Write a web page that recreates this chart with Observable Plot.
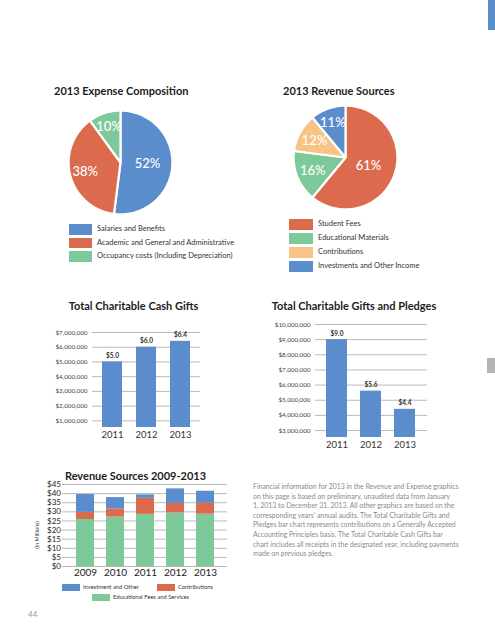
<!DOCTYPE html>
<html><head><meta charset="utf-8">
<script src="https://cdn.jsdelivr.net/npm/d3@7"></script>
<script src="https://cdn.jsdelivr.net/npm/@observablehq/plot@0.6"></script>
<style>
html,body{margin:0;padding:0;background:#fff;}
#page{position:relative;width:495px;height:640px;overflow:hidden;font-family:Lato,"Open Sans",sans-serif;background:#fff;}
.abs{position:absolute;}
.title{font-weight:bold;font-size:11px;line-height:11px;color:#1d1d1d;white-space:nowrap;}
.leg{font-size:7.5px;line-height:10px;color:#333;white-space:nowrap;}
.sw{position:absolute;}
.para{font-size:6.9px;line-height:9.6px;color:#8a8a8a;white-space:nowrap;}
</style></head>
<body><div id="page"></div>
<script>
// ---------- DATA ----------
const expenseCategories = ["Salaries and Benefits", "Academic and General and Administrative", "Occupancy costs (Including Depreciation)"];
const expenseValues = [52, 38, 10];
const expenseColors = ["#5b8ccb", "#dc6a4d", "#7ec99a"];

const revenueCategories = ["Student Fees", "Educational Materials", "Contributions", "Investments and Other Income"];
const revenueValues = [61, 16, 12, 11];
const revenueColors = ["#dc6a4d", "#7ec99a", "#f8c486", "#5b8ccb"];

const giftYears = ["2011", "2012", "2013"];
const cashGifts = [5.0e6, 6.0e6, 6.4e6];
const cashTicks = [1e6, 2e6, 3e6, 4e6, 5e6, 6e6, 7e6];
const pledgeGifts = [9.0e6, 5.6e6, 4.4e6];
const pledgeTicks = [3e6, 4e6, 5e6, 6e6, 7e6, 8e6, 9e6, 10e6];

const revYears = ["2009", "2010", "2011", "2012", "2013"];
const revSeries = ["Educational Fees and Services", "Contributions", "Investment and Other"];
const educationalFees = [25.8, 27.1, 28.6, 29.4, 28.7];
const contributionsRev = [3.9, 4.5, 8.8, 5.2, 6.0];
const investmentRev = [9.8, 6.2, 1.9, 8.0, 6.6];
const revColors = ["#7ec99a", "#dc6a4d", "#5b8ccb"];
const revTicks = [0, 5, 10, 15, 20, 25, 30, 35, 40, 45];

const noteLines = [
  "Financial information for 2013 in the Revenue and Expense graphics",
  "on this page is based on preliminary, unaudited data from January",
  "1, 2013 to December 31, 2013. All other graphics are based on the",
  "corresponding years\u2019 annual audits. The Total Charitable Gifts and",
  "Pledges bar chart represents contributions on a Generally Accepted",
  "Accounting Principles basis. The Total Charitable Cash Gifts bar",
  "chart includes all receipts in the designated year, including payments",
  "made on previous pledges."
];

// ---------- HELPERS ----------
const page = document.getElementById("page");
function place(el, left, top) {
  el.classList.add("abs");
  el.style.left = left + "px";
  el.style.top = top + "px";
  page.appendChild(el);
  return el;
}
function div(cls, html, left, top, extra) {
  const d = document.createElement("div");
  d.className = cls;
  d.innerHTML = html;
  if (extra) Object.assign(d.style, extra);
  return place(d, left, top);
}
function centeredTitle(text, cx, cy) {
  const d = div("title", text, 0, cy - 5.5);
  const w = d.getBoundingClientRect().width;
  d.style.left = (cx - w / 2) + "px";
}
function legend(names, colors, x, y0, step, sw, sh, textX, cls, fs) {
  names.forEach((n, i) => {
    const s = document.createElement("div");
    s.className = "sw";
    Object.assign(s.style, {width: sw + "px", height: sh + "px", background: colors[i]});
    place(s, x, y0 + i * step);
    div(cls, n, textX, y0 + i * step + sh / 2 - 5, fs ? {fontSize: fs + "px"} : null);
  });
}

function pieChart(names, values, colors, labelR) {
  const arcs = d3.pie().sort(null)(values);
  const pts = [];
  arcs.forEach((a, i) => {
    pts.push({name: names[i], x: 0, y: 0});
    const n = Math.max(2, Math.ceil((a.endAngle - a.startAngle) / 0.02));
    for (let k = 0; k <= n; k++) {
      const t = a.startAngle + (a.endAngle - a.startAngle) * k / n;
      pts.push({name: names[i], x: Math.sin(t), y: Math.cos(t)});
    }
  });
  const labels = arcs.map((a, i) => {
    const m = (a.startAngle + a.endAngle) / 2;
    return {label: values[i] + "%", x: labelR[i] * Math.sin(m), y: labelR[i] * Math.cos(m)};
  });
  return Plot.plot({
    width: 110, height: 110, margin: 0,
    style: {background: "transparent", fontFamily: "Lato, sans-serif"},
    x: {domain: [-1.06, 1.06], axis: null},
    y: {domain: [-1.06, 1.06], axis: null},
    color: {domain: names, range: colors},
    marks: [
      Plot.line(pts, {x: "x", y: "y", z: "name", fill: "name", stroke: "white", strokeWidth: 2.2, curve: "linear-closed", strokeLinejoin: "round"}),
      Plot.text(labels, {x: "x", y: "y", text: "label", fill: "white", fontSize: 13, fontWeight: 500})
    ]
  });
}

function giftChart(values, ticks, yMin, yMax, opts) {
  const data = giftYears.map((y, i) => ({year: y, value: values[i]}));
  const fmt = d3.format("$,");
  return Plot.plot({
    width: opts.width, height: opts.height,
    marginLeft: opts.marginLeft, marginRight: opts.marginRight, marginTop: 10, marginBottom: opts.marginBottom,
    style: {background: "transparent", fontFamily: "Lato, sans-serif"},
    x: {domain: giftYears, paddingInner: opts.pi, paddingOuter: opts.po, label: null},
    y: {domain: [yMin, yMax], label: null},
    marks: [
      Plot.gridY(ticks, {stroke: "#b9b9b9", strokeOpacity: 1, strokeWidth: 1}),
      Plot.barY(data, {x: "year", y1: yMin, y2: "value", fill: "#5b8ccb"}),
      Plot.text(data, {x: "year", y: "value", text: d => "$" + (d.value / 1e6).toFixed(1), dy: -6, fontSize: 6.5, fontWeight: "bold", fill: "#333"}),
      Plot.axisY(ticks, {tickSize: 0, tickPadding: 5, tickFormat: fmt, fontSize: 6.3, fill: "#444", label: null}),
      Plot.axisX({tickSize: 0, tickPadding: opts.xPad, fontSize: 9.5, fill: "#333", label: null})
    ]
  });
}

function stackedChart() {
  const rows = [];
  revYears.forEach((y, i) => {
    rows.push({year: y, series: revSeries[0], value: educationalFees[i]});
    rows.push({year: y, series: revSeries[1], value: contributionsRev[i]});
    rows.push({year: y, series: revSeries[2], value: investmentRev[i]});
  });
  return Plot.plot({
    width: 200, height: 110, marginLeft: 32, marginRight: 3, marginTop: 10, marginBottom: 18,
    style: {background: "transparent", fontFamily: "Lato, sans-serif"},
    x: {domain: revYears, paddingInner: 0.4, paddingOuter: 0.4, label: null},
    y: {domain: [0, 45], label: null},
    color: {domain: revSeries, range: revColors},
    marks: [
      Plot.gridY(revTicks, {stroke: "#b9b9b9", strokeOpacity: 1}),
      Plot.barY(rows, {x: "year", y: "value", fill: "series", order: revSeries}),
      Plot.axisY(revTicks, {tickSize: 0, tickPadding: 1.5, tickFormat: d => "$" + d, fontSize: 8, fill: "#222", label: null}),
      Plot.axisX({tickSize: 0, tickPadding: 2, fontSize: 10, fill: "#222", label: null})
    ]
  });
}

// ---------- DECORATIONS ----------
const topBar = document.createElement("div");
Object.assign(topBar.style, {width: "7px", height: "30px", background: "#5b8ccb"});
place(topBar, 488, 0);
const sideTab = document.createElement("div");
Object.assign(sideTab.style, {width: "8px", height: "15px", background: "#b3b3ba"});
place(sideTab, 487, 358);
div("leg", "44", 28, 609, {fontSize: "8px", color: "#9a9a9a"});

// ---------- PIES ----------
div("title", "2013 Expense Composition", 54, 85);
place(pieChart(expenseCategories, expenseValues, expenseColors, [0.52, 0.7, 0.72]), 65, 107);
legend(expenseCategories, expenseColors, 69, 224, 13.5, 23, 10.5, 97, "leg");

div("title", "2013 Revenue Sources", 283, 85);
place(pieChart(revenueCategories, revenueValues, revenueColors, [0.47, 0.68, 0.68, 0.72]), 290, 102);
legend(revenueCategories, revenueColors, 289, 219, 14, 24, 10.5, 318, "leg");

// ---------- GIFT BARS ----------
centeredTitle("Total Charitable Cash Gifts", 133.5, 305);
place(giftChart(cashGifts, cashTicks, 0.55e6, 7e6, {width: 175, height: 125, marginLeft: 62, marginRight: 5, marginBottom: 20, pi: 0.41, po: 0.29, xPad: 4}), 30, 322);

centeredTitle("Total Charitable Gifts and Pledges", 354, 305);
place(giftChart(pledgeGifts, pledgeTicks, 2.54e6, 10e6, {width: 177, height: 143, marginLeft: 60, marginRight: 5, marginBottom: 20, pi: 0.377, po: 0.31, xPad: 4}), 255, 314);

// ---------- STACKED ----------
centeredTitle("Revenue Sources 2009-2013", 135.5, 475);
place(stackedChart(), 30, 474);
div("leg", "(In Millions)", 37 - 20, 535 - 5, {fontSize: "5.5px", width: "40px", textAlign: "center", transform: "rotate(-90deg)"});
legend(["Investment and Other"], [revColors[2]], 62, 584, 0, 18, 6.5, 83, "leg", 5.8);
legend(["Contributions"], [revColors[1]], 157, 584, 0, 18, 6.5, 178, "leg", 5.8);
legend(["Educational Fees and Services"], [revColors[0]], 92, 594, 0, 18, 6.5, 113, "leg", 5.8);

// ---------- NOTE ----------
div("para", noteLines.join("<br>"), 253, 482);
</script>
</body></html>
